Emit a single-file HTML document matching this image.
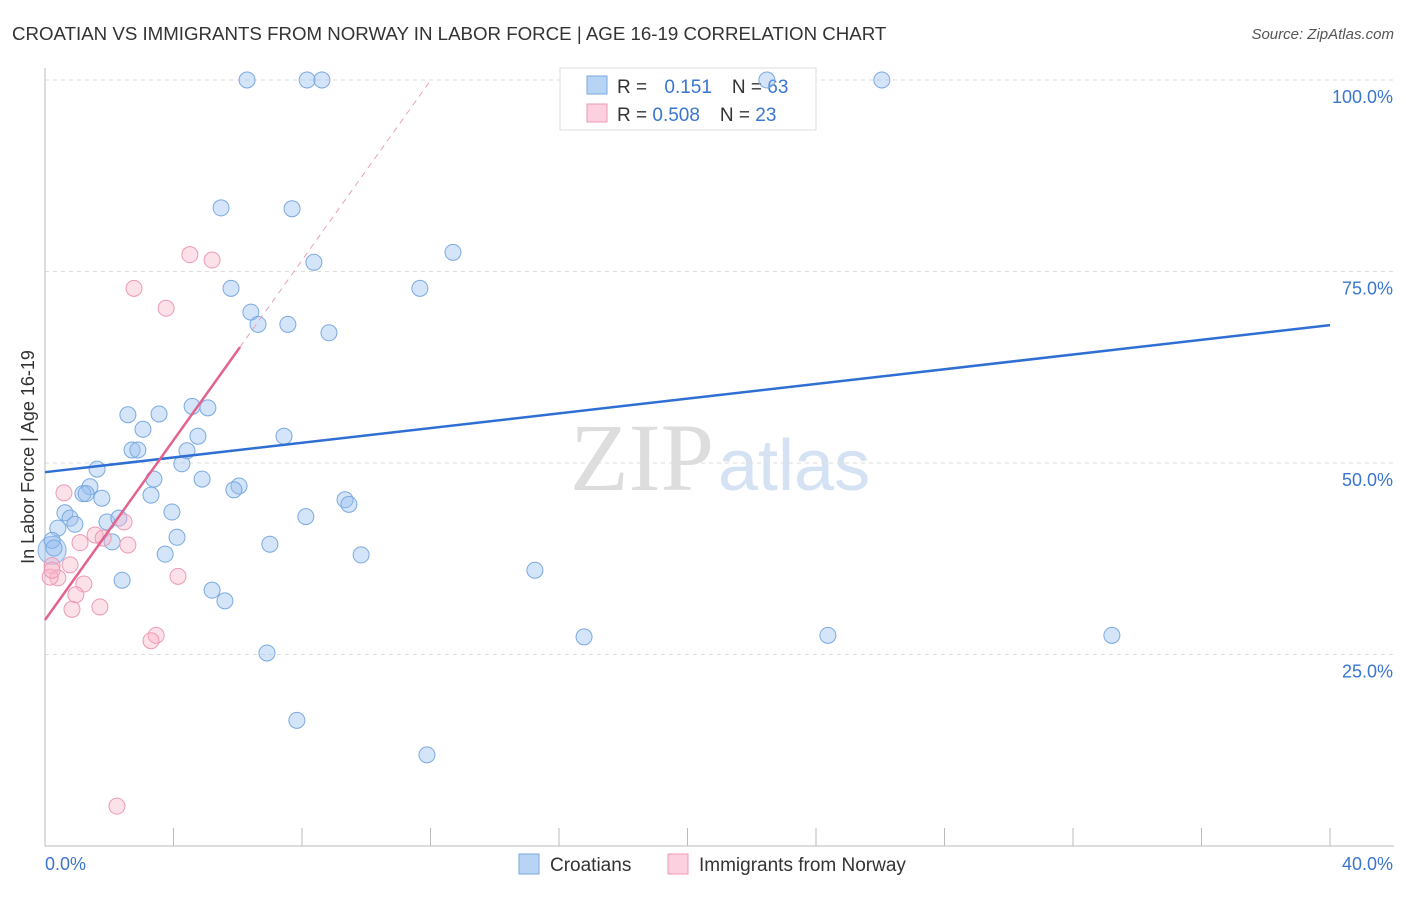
<!DOCTYPE html>
<html><head><meta charset="utf-8"><style>
body{margin:0;background:#fff;font-family:"Liberation Sans",sans-serif;}
</style></head><body>
<svg id="c" width="1406" height="892" xmlns="http://www.w3.org/2000/svg">
<text x="12" y="40" font-size="18.7" fill="#333">CROATIAN VS IMMIGRANTS FROM NORWAY IN LABOR FORCE | AGE 16-19 CORRELATION CHART</text>
<text x="1394" y="39" font-size="15" fill="#555" font-style="italic" text-anchor="end">Source: ZipAtlas.com</text>
<text x="714" y="490" font-size="96" fill="#ddd" text-anchor="end" font-family="Liberation Serif">ZIP</text>
<text x="718" y="490" font-size="72" fill="#d4e2f4">atlas</text>
<g id="grid"></g>
<g>
<rect x="560" y="68" width="256" height="62" fill="#fff" stroke="#ddd"/>
<rect x="587" y="76" width="20" height="18" fill="#b8d4f5" stroke="#7aa9e0"/>
<rect x="587" y="104" width="20" height="18" fill="#fcd0de" stroke="#ec9ab5"/>
<text x="617" y="93" font-size="19" fill="#333">R = <tspan fill="#3a76d0" dx="12">0.151</tspan><tspan fill="#333" dx="20">N = </tspan><tspan fill="#3a76d0">63</tspan></text>
<text x="617" y="121" font-size="19" fill="#333">R = <tspan fill="#3a76d0">0.508</tspan><tspan fill="#333" dx="20">N = </tspan><tspan fill="#3a76d0">23</tspan></text>
</g>
<g id="pts"></g><g id="lines"></g>
<text transform="translate(34,457) rotate(-90)" font-size="18" fill="#333" text-anchor="middle">In Labor Force | Age 16-19</text>
<g>
<rect x="519" y="854" width="20" height="20" fill="#b8d4f5" stroke="#7aa9e0"/>
<text x="550" y="871" font-size="19" fill="#333">Croatians</text>
<rect x="668" y="854" width="20" height="20" fill="#fcd0de" stroke="#ec9ab5"/>
<text x="699" y="871" font-size="19" fill="#333">Immigrants from Norway</text>
</g>
</svg>
<script>
const yTicks=[25,50,75,100];
const xTickLabels=["0.0%","40.0%"];
const blueX=[6.29,8.16,8.62,22.47,26.05,5.48,7.69,12.70,8.37,5.79,11.67,6.41,6.63,7.56,8.84,2.58,3.55,4.58,5.07,3.05,2.71,2.89,4.76,4.42,7.44,1.62,4.26,3.39,4.89,1.40,1.18,1.28,1.77,3.30,6.04,5.88,9.34,9.46,0.62,0.78,0.93,0.40,1.93,2.30,3.95,8.12,0.22,0.28,2.09,4.11,7.00,3.74,9.84,2.40,5.20,5.60,15.25,16.78,24.37,33.21,6.91,7.84,11.89];
const blueY=[100,100,100,100,100,83.3,83.2,77.5,76.2,72.8,72.8,69.7,68.1,68.1,67.0,56.3,56.4,57.4,57.2,54.4,51.7,51.7,53.5,51.6,53.5,49.2,49.9,47.9,47.9,46.9,46.0,46.0,45.4,45.8,47.0,46.5,45.2,44.6,43.5,42.8,42.0,41.5,42.3,42.8,43.6,43.0,39.9,38.9,39.7,40.3,39.4,38.1,38.0,34.7,33.4,32.0,36.0,27.3,27.5,27.5,25.2,16.4,11.9];
const pinkX=[0.59,4.51,5.20,2.77,3.77,2.46,1.56,1.81,1.09,2.58,0.22,0.40,0.78,1.21,0.96,0.16,0.84,1.71,4.14,3.46,3.30,2.24,0.22];
const pinkY=[46.1,77.2,76.5,72.8,70.2,42.3,40.6,40.2,39.6,39.3,36.6,35.0,36.7,34.2,32.8,35.1,30.9,31.2,35.2,27.5,26.8,5.2,36.0];
const blueLine=[48.8,68.0];
const pinkLine=[29.5,5.87,6.07];
const NS="http://www.w3.org/2000/svg";
const X=v=>45+v/40*1285, Y=v=>846-v*7.66;
function mk(t,a,p){const e=document.createElementNS(NS,t);for(const k in a)e.setAttribute(k,a[k]);p.appendChild(e);return e;}
const g=document.getElementById('grid');
yTicks.forEach(t=>{const l=mk('line',{x1:45,x2:1394,y1:Y(t),y2:Y(t),stroke:'#ddd','stroke-dasharray':'4,4'},g);


const tx=mk('text',{x:1393,y:Y(t)+23,'font-size':18,fill:'#3a76d0','text-anchor':'end'},g);tx.textContent=t.toFixed(1)+'%';

});
mk('line',{x1:45,x2:45,y1:68,y2:846,stroke:'#bbb'},g);
mk('line',{x1:45,x2:1394,y1:846,y2:846,stroke:'#bbb'},g);
for(let i=1;i<=10;i++){mk('line',{x1:X(i*4),x2:X(i*4),y1:828,y2:846,stroke:'#bbb'},g);}
xTickLabels.forEach((s,i)=>{const t=mk('text',{x:i?1393:45,y:870,'font-size':18,fill:'#3a76d0','text-anchor':i?'end':'start'},g);t.textContent=s;

});
const p=document.getElementById('pts');
mk('circle',{cx:X(0.22),cy:Y(38.6),r:14,fill:'rgba(150,190,240,0.45)',stroke:'#8ab2e6'},p);
blueX.forEach((x,i)=>{const c=mk('circle',{cx:X(x),cy:Y(blueY[i]),r:8,fill:'rgba(150,190,240,0.4)',stroke:'#7aa9e0'},p);

});
pinkX.forEach((x,i)=>{const c=mk('circle',{cx:X(x),cy:Y(pinkY[i]),r:8,fill:'rgba(250,180,200,0.4)',stroke:'#ec9ab5'},p);

});
const L=document.getElementById('lines');
const bl=mk('line',{x1:X(0),y1:Y(blueLine[0]),x2:X(40),y2:Y(blueLine[1]),stroke:'#2f6fd4','stroke-width':2.5},L);


const pe=pinkLine[2], xEnd=(100-pinkLine[0])/pinkLine[1];
const pl=mk('line',{x1:X(0),y1:Y(pinkLine[0]),x2:X(pe),y2:Y(pinkLine[0]+pinkLine[1]*pe),stroke:'#e4628e','stroke-width':2.5},L);


const pd=mk('line',{x1:X(pe),y1:Y(pinkLine[0]+pinkLine[1]*pe),x2:X(xEnd),y2:Y(100),stroke:'#eaa0b8','stroke-width':1,'stroke-dasharray':'6,5'},L);


</script>
</body></html>
